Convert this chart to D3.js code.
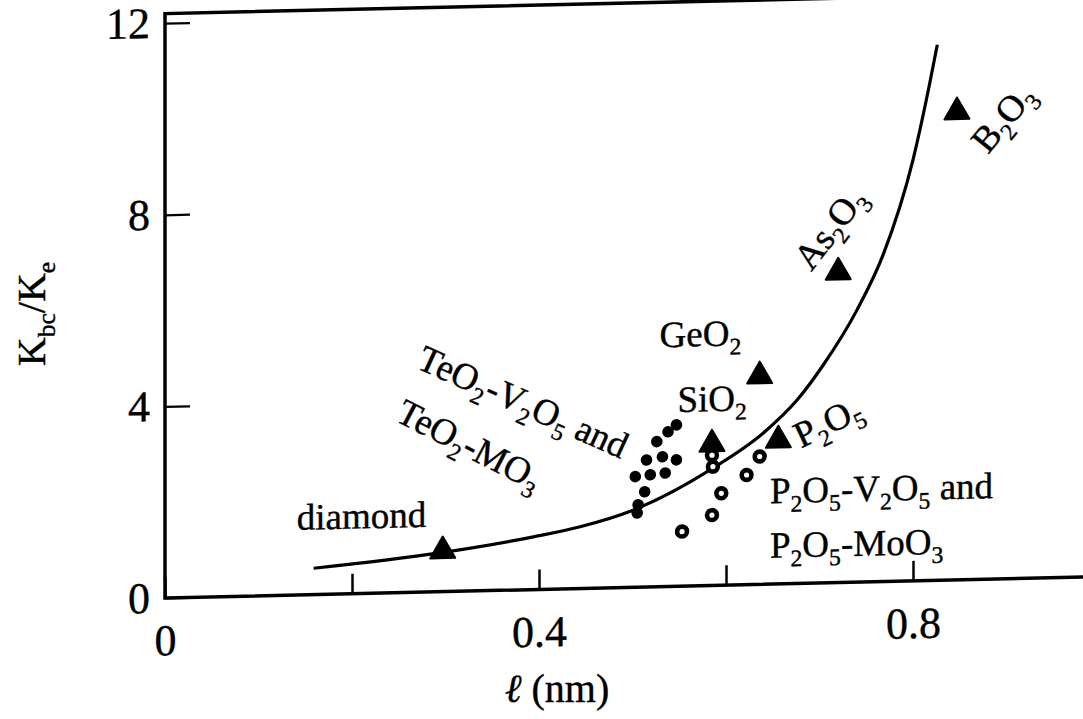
<!DOCTYPE html>
<html>
<head>
<meta charset="utf-8">
<script src="https://cdn.jsdelivr.net/npm/d3@7"></script>
<style>
  body { margin: 0; background: #fff; }
  svg { display: block; }
  text { font-family: "Liberation Serif", "Times New Roman", serif; fill: #000; }
</style>
</head>
<body>
<svg id="chart" width="1083" height="719"></svg>
<script>
// ---- axis ticks ----
const xTickValues = [0, 0.2, 0.4, 0.6, 0.8];
const xTickLabels = ["0", "", "0.4", "", "0.8"];
const yTickValues = [0, 4, 8, 12];
const yTickLabels = ["0", "4", "8", "12"];

// ---- single oxide glasses (filled triangles) ----
const oxideNames = ["diamond", "SiO2", "P2O5", "GeO2", "As2O3", "B2O3"];
const oxideL = [0.297, 0.585, 0.656, 0.636, 0.720, 0.847];
const oxideK = [0.85, 2.95, 3.00, 4.35, 6.48, 9.77];

// ---- TeO2-V2O5 and TeO2-MO3 glasses (filled dots) ----
const teoL = [0.547, 0.538, 0.526, 0.515, 0.532, 0.547, 0.503, 0.519, 0.535, 0.513, 0.506, 0.505];
const teoK = [3.37, 3.23, 3.03, 2.65, 2.71, 2.64, 2.31, 2.34, 2.37, 1.99, 1.72, 1.55];

// ---- P2O5-V2O5 and P2O5-MoO3 glasses (open circles) ----
const phoL = [0.585, 0.586, 0.636, 0.622, 0.595, 0.585, 0.553];
const phoK = [2.72, 2.48, 2.67, 2.29, 1.92, 1.47, 1.14];

// ---- fitted curve ----
const fitL = [0.159, 0.294, 0.394, 0.444, 0.5005, 0.586, 0.640, 0.676, 0.704, 0.740, 0.768, 0.800, 0.818, 0.826];
const fitK = [0.55, 0.81, 1.10, 1.29, 1.61, 2.45, 3.16, 3.83, 4.55, 5.68, 6.82, 8.79, 10.39, 11.18];

// ---- annotation text ("_x" or "_{xy}" marks a subscript) ----
const labelTexts = ["diamond", "GeO_2", "SiO_2", "P_2O_5", "As_2O_3", "B_2O_3",
                    "TeO_2-V_2O_5 and", "TeO_2-MO_3", "P_2O_5-V_2O_5 and", "P_2O_5-MoO_3"];

// label placement (data units), rotation and anchor
const labelLayout = [
  { l: 0.141, k: 1.36, rot: 0,   anchor: "start" },
  { l: 0.529, k: 5.00, rot: 0,   anchor: "start" },
  { l: 0.548, k: 3.64, rot: 0,   anchor: "start" },
  { l: 0.709, k: 3.36, rot: -25, anchor: "middle" },
  { l: 0.711, k: 7.40, rot: -52, anchor: "middle" },
  { l: 0.896, k: 9.62, rot: -50, anchor: "middle" },
  { l: 0.383, k: 3.92, rot: 25,  anchor: "middle" },
  { l: 0.326, k: 3.05, rot: 28,  anchor: "middle" },
  { l: 0.647, k: 1.69, rot: 0,   anchor: "start" },
  { l: 0.647, k: 0.55, rot: 0,   anchor: "start" }
];

// ---- geometry ----
const origin = { x: 165, y: 598 };
const plotW = 935, plotH = 584.4;
const skew = -1.31; // degrees; the frame leans slightly

const svg = d3.select("#chart");
const x = d3.scaleLinear().domain([0, 1]).range([0, plotW]);
const y = d3.scaleLinear().domain([0, 12.2]).range([0, -plotH]);

const g = svg.append("g")
  .attr("transform", `translate(${origin.x},${origin.y}) skewY(${skew})`);

// rich text with subscripts
function richText(sel, str, fs) {
  const parts = str.split(/(_\{[^}]*\}|_.)/).filter(s => s.length);
  const shift = fs * 0.24;
  let down = false;
  parts.forEach(p => {
    if (p[0] === "_") {
      const t = p[1] === "{" ? p.slice(2, -1) : p.slice(1);
      sel.append("tspan").attr("font-size", fs * 0.64).attr("dy", down ? 0 : shift).text(t);
      down = true;
    } else {
      sel.append("tspan").attr("font-size", fs).attr("dy", down ? -shift : 0).text(p);
      down = false;
    }
  });
}

// frame (right edge falls outside the view)
g.append("rect")
  .attr("x", 0).attr("y", y(12.2))
  .attr("width", plotW).attr("height", plotH)
  .attr("fill", "none").attr("stroke", "#000").attr("stroke-width", 3.5);

// x axis
const xAxis = d3.axisBottom(x)
  .tickValues(xTickValues)
  .tickSizeInner(-20).tickSizeOuter(0).tickPadding(26)
  .tickFormat((d, i) => xTickLabels[i]);
const gx = g.append("g").call(xAxis);
gx.select(".domain").remove();
gx.selectAll(".tick line").attr("stroke", "#000").attr("stroke-width", 2.5);
gx.selectAll(".tick text")
  .attr("font-size", 44).attr("fill", "#000")
  .attr("stroke", "#000").attr("stroke-width", 0.4);

// y axis
const yAxis = d3.axisLeft(y)
  .tickValues(yTickValues)
  .tickSizeInner(-25).tickSizeOuter(0).tickPadding(15)
  .tickFormat((d, i) => yTickLabels[i]);
const gy = g.append("g").call(yAxis);
gy.select(".domain").remove();
gy.selectAll(".tick line").attr("stroke", "#000").attr("stroke-width", 2.2);
gy.selectAll(".tick text")
  .attr("font-size", 44).attr("fill", "#000")
  .attr("stroke", "#000").attr("stroke-width", 0.4);

// fitted curve
const fitPts = fitL.map((l, i) => [l, fitK[i]]);
g.append("path")
  .datum(fitPts)
  .attr("d", d3.line().x(d => x(d[0])).y(d => y(d[1])).curve(d3.curveMonotoneX))
  .attr("fill", "none").attr("stroke", "#000").attr("stroke-width", 3.2);

// TeO2 glasses: filled dots
g.selectAll("circle.teo")
  .data(teoL.map((l, i) => [l, teoK[i]]))
  .join("circle").attr("class", "teo")
  .attr("cx", d => x(d[0])).attr("cy", d => y(d[1]))
  .attr("r", 5.8).attr("fill", "#000");

// P2O5 glasses: open circles
const pho = g.selectAll("g.pho")
  .data(phoL.map((l, i) => [l, phoK[i]]))
  .join("g").attr("class", "pho")
  .attr("transform", d => `translate(${x(d[0])},${y(d[1])})`);
pho.append("circle").attr("r", 7.2).attr("fill", "#000");
pho.append("circle").attr("r", 2.6).attr("fill", "#fff");

// single oxides: filled triangles
const tri = d3.symbol().type(d3.symbolTriangle).size(270);
g.selectAll("path.oxide")
  .data(oxideNames.map((n, i) => ({ n, l: oxideL[i], k: oxideK[i] })))
  .join("path").attr("class", "oxide")
  .attr("d", tri)
  .attr("transform", d => `translate(${x(d.l)},${y(d.k)})`)
  .attr("fill", "#000").attr("stroke", "#000").attr("stroke-width", 2)
  .attr("stroke-linejoin", "round");

// annotations
const labelFs = 37;
labelTexts.forEach((txt, i) => {
  const p = labelLayout[i];
  const px = x(p.l), py = y(p.k);
  const t = g.append("text")
    .attr("text-anchor", p.anchor)
    .attr("transform", `translate(${px},${py}) rotate(${p.rot})`)
    .attr("font-size", labelFs)
    .attr("stroke", "#000").attr("stroke-width", 0.4);
  if (p.anchor === "middle") {
    t.attr("y", labelFs * 0.33);
  }
  richText(t, txt, labelFs);
});

// axis titles
const xt = svg.append("text")
  .attr("x", 557).attr("y", 702)
  .attr("text-anchor", "middle").attr("font-size", 40)
  .attr("stroke", "#000").attr("stroke-width", 0.4);
xt.append("tspan").attr("font-style", "italic").text("ℓ");
xt.append("tspan").text(" (nm)");

const yt = svg.append("text")
  .attr("transform", "translate(45,314) rotate(-90)")
  .attr("text-anchor", "middle").attr("font-size", 40)
  .attr("stroke", "#000").attr("stroke-width", 0.4);
richText(yt, "K_{bc}/K_e", 40);
</script>
</body>
</html>
